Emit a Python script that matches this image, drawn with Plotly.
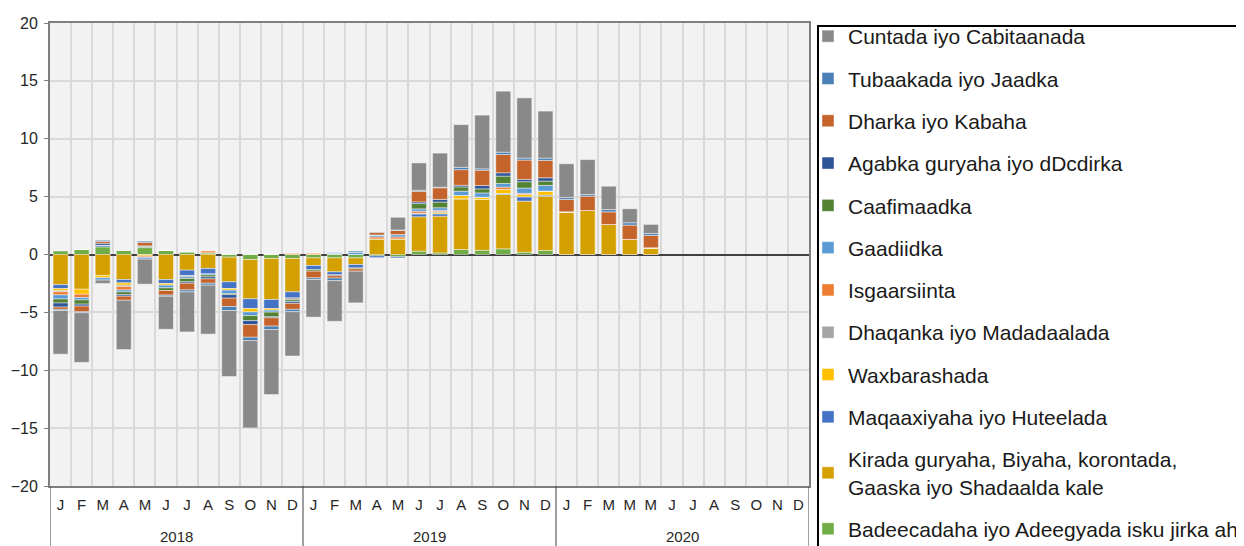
import plotly.graph_objects as go

# ---------------- data ----------------
years = ["2018", "2019", "2020"]
month_letters_2018 = ["J", "F", "M", "A", "M", "J", "J", "A", "S", "O", "N", "D"]
month_letters_2019 = ["J", "F", "M", "A", "M", "J", "J", "A", "S", "O", "N", "D"]
month_letters_2020 = ["J", "F", "M", "M", "M", "J", "J", "A", "S", "O", "N", "D"]
month_keys = [f"{y}-{m:02d}" for y in years for m in range(1, 13)]
month_labels = month_letters_2018 + month_letters_2019 + month_letters_2020

N = None
badeecadaha = [0.3, 0.43, 0.66, 0.35, 0.6, 0.35, 0.23, 0.15, -0.23, -0.43, -0.35, -0.35,
               -0.29, -0.29, -0.29, -0.12, -0.2, 0.29, 0.14, 0.43, 0.37, 0.49, 0.2, 0.35,
               0, 0, 0, 0, 0, N, N, N, N, N, N, N]
kirada = [-2.6, -3.0, -1.81, -2.16, -0.05, -2.16, -1.35, -1.21, -2.13, -3.4, -3.54, -2.88,
          -0.66, -1.21, -0.58, 1.35, 1.35, 2.97, 3.17, 4.38, 4.38, 4.69, 4.41, 4.69,
          3.69, 3.8, 2.59, 1.3, 0.58, N, N, N, N, N, N, N]
maqaaxiyaha = [-0.35, 0, 0.14, -0.29, 0, -0.35, -0.46, -0.46, -0.58, -0.84, -0.78, -0.52,
               -0.35, -0.23, -0.29, -0.15, -0.1, 0.26, 0.2, 0, 0, 0.09, 0.37, 0.09,
               0, 0, 0, 0, 0, N, N, N, N, N, N, N]
waxbarashada = [-0.17, -0.43, -0.2, -0.2, -0.1, -0.14, 0, 0, -0.14, -0.29, -0.14, 0,
                0, 0, 0, 0, 0, 0, 0.1, 0.29, 0.2, 0.35, 0.2, 0.35,
                0, 0, 0, 0, 0, N, N, N, N, N, N, N]
dhaqanka = [-0.1, 0, 0, -0.12, 0, 0, -0.12, 0, 0, 0, 0, -0.17,
            0, 0.1, 0, 0, 0, 0.05, 0.1, 0, 0, 0, 0, 0,
            0, 0, 0, 0, 0, N, N, N, N, N, N, N]
isgaarsiinta = [-0.27, -0.29, 0, -0.29, -0.1, 0, 0, 0.15, 0, 0, 0, 0.12,
                0.14, 0, 0, 0.17, 0.17, 0.17, 0.1, 0, 0, 0.2, 0.1, 0,
                0, 0, 0, 0, 0, N, N, N, N, N, N, N]
gaadiidka = [-0.35, -0.2, -0.2, -0.17, -0.15, -0.23, -0.14, -0.1, -0.29, -0.32, -0.17, 0,
             0, 0.1, 0.2, 0.17, 0.2, 0.2, 0.23, 0.37, 0.37, 0.32, 0.46, 0.49,
             0, 0, 0, 0, 0, N, N, N, N, N, N, N]
caafimaadka = [-0.35, -0.37, 0, -0.23, 0.1, -0.23, -0.29, -0.17, -0.1, -0.43, -0.4, -0.15,
               -0.14, 0, -0.08, 0, 0, 0.46, 0.49, 0.37, 0.35, 0.63, 0.55, 0.37,
               0, 0, 0, 0, 0, N, N, N, N, N, N, N]
agabka = [-0.35, -0.17, 0.17, -0.14, 0.05, 0, -0.12, -0.17, -0.3, -0.35, -0.09, -0.15,
          0, -0.1, 0, 0, 0, 0.14, 0.23, 0.14, 0.29, 0.29, 0.2, 0.29,
          0, 0, 0, 0, 0, N, N, N, N, N, N, N]
dharka = [-0.2, -0.49, 0.17, -0.35, 0.3, -0.4, -0.58, -0.37, -0.72, -1.09, -0.72, -0.52,
          -0.58, -0.2, -0.2, 0.23, 0.35, 0.92, 1.0, 1.35, 1.32, 1.58, 1.67, 1.5,
          1.07, 1.24, 1.09, 1.24, 1.07, N, N, N, N, N, N, N]
tubaakada = [-0.1, -0.08, 0.09, 0, 0.1, -0.1, -0.17, -0.17, -0.35, -0.29, -0.29, -0.2,
             -0.14, -0.23, 0.1, 0.05, 0.05, 0.09, 0.06, 0.2, 0.12, 0.2, 0.17, 0.2,
             0.17, 0.14, 0.2, 0.2, 0.17, N, N, N, N, N, N, N]
cuntada = [-3.77, -4.29, -0.29, -4.26, -2.16, -2.85, -3.46, -4.23, -5.7, -7.54, -5.62, -3.83,
           -3.25, -3.51, -2.74, 0, 1.09, 2.36, 2.94, 3.69, 4.64, 5.27, 5.2, 4.06,
           2.91, 3.02, 2.02, 1.21, 0.78, N, N, N, N, N, N, N]

series_names = [
    "Badeecadaha iyo Adeegyada isku jirka ah",
    "Kirada guryaha, Biyaha, korontada,<br>Gaaska iyo Shadaalda kale",
    "Maqaaxiyaha iyo Huteelada",
    "Waxbarashada",
    "Dhaqanka iyo Madadaalada",
    "Isgaarsiinta",
    "Gaadiidka",
    "Caafimaadka",
    "Agabka guryaha iyo dDcdirka",
    "Dharka iyo Kabaha",
    "Tubaakada iyo Jaadka",
    "Cuntada iyo Cabitaanada",
]
series_values = [badeecadaha, kirada, maqaaxiyaha, waxbarashada, dhaqanka, isgaarsiinta,
                 gaadiidka, caafimaadka, agabka, dharka, tubaakada, cuntada]
series_colors = ["#70AD47", "#D4A000", "#4472C4", "#FFC000", "#A5A5A5", "#ED7D31",
                 "#5B9BD5", "#548235", "#2F5597", "#C5642A", "#4A80B5", "#898989"]

# ---------------- figure ----------------
fig = go.Figure()
n_series = len(series_names)
for i, (name, vals, col) in enumerate(zip(series_names, series_values, series_colors)):
    fig.add_trace(go.Bar(
        x=month_keys, y=vals, name=name, legendgroup=f"g{i}",
        legendrank=n_series - i,
        marker=dict(color=col, line=dict(color="rgba(255,255,255,0.55)", width=0.8)),
    ))

# the page body has an 8 px margin: work in page pixels, convert to figure pixels
OFF = 8
W, H = 1244 - OFF, 546 - OFF
PL, PR, PT, PB = 50, 809, 23, 486          # plot area in page pixels
L, R, T, B = PL - OFF, W - (PR - OFF), PT - OFF, H - (PB - OFF)
plot_w = W - L - R
plot_h = H - T - B


def px_x(p):
    return (p - PL) / plot_w


def px_y(p):
    return (PB - p) / plot_h


fig.update_layout(
    width=W, height=H,
    margin=dict(l=L, r=R, t=T, b=B, pad=0, autoexpand=False),
    barmode="relative", bargap=0.29,
    paper_bgcolor="white", plot_bgcolor="#F2F2F2",
    font=dict(family="Liberation Sans, Arial, sans-serif", color="#262626"),
    showlegend=True,
    legend=dict(
        x=px_x(808), xanchor="left",
        y=px_y(16), yanchor="top",
        borderwidth=0, bgcolor="rgba(0,0,0,0)",
        font=dict(size=21, color="#1a1a1a"),
        traceorder="grouped", tracegroupgap=12,
        itemwidth=30, maxheight=800,
    ),
)

fig.update_xaxes(
    type="category", categoryorder="array", categoryarray=month_keys,
    tickmode="array", tickvals=month_keys, ticktext=month_labels,
    tickson="boundaries", ticks="", showgrid=True, gridcolor="#D9D9D9", gridwidth=2,
    showline=True, linecolor="#7F7F7F", linewidth=2, mirror=True,
    ticklabelstandoff=4,
    tickfont=dict(size=15, color="#262626"), range=[-0.5, 35.5],
)
fig.update_yaxes(
    range=[-20, 20], dtick=5, tick0=0,
    showgrid=True, gridcolor="#D9D9D9", gridwidth=2,
    zeroline=True, zerolinecolor="#404040", zerolinewidth=1.5,
    showline=True, linecolor="#7F7F7F", linewidth=2, mirror=True,
    ticks="outside", ticklen=4, tickcolor="#7F7F7F", ticklabelstandoff=3,
    tickfont=dict(size=16, color="#262626"),
)

# legend frame (extends past the right and bottom edges as in the reference)
fig.add_shape(type="rect", xref="paper", yref="paper",
              x0=px_x(818), x1=px_x(1300), y0=px_y(26), y1=px_y(600),
              line=dict(color="#000000", width=2), fillcolor="rgba(0,0,0,0)", layer="below")

# year group separators and labels below the month letters
sep_depth = (546 - PB) / plot_h
for xb in [-0.5, 11.5, 23.5, 35.5]:
    fig.add_shape(type="line", xref="x", yref="paper", x0=xb, x1=xb, y0=0, y1=-sep_depth,
                  line=dict(color="#404040", width=1))
for k, yr in enumerate(years):
    fig.add_annotation(x=5.5 + 12 * k, xref="x", y=px_y(536), yref="paper",
                       text=yr, showarrow=False, yanchor="middle",
                       font=dict(size=15, color="#262626"))

fig.write_html("out.html")
